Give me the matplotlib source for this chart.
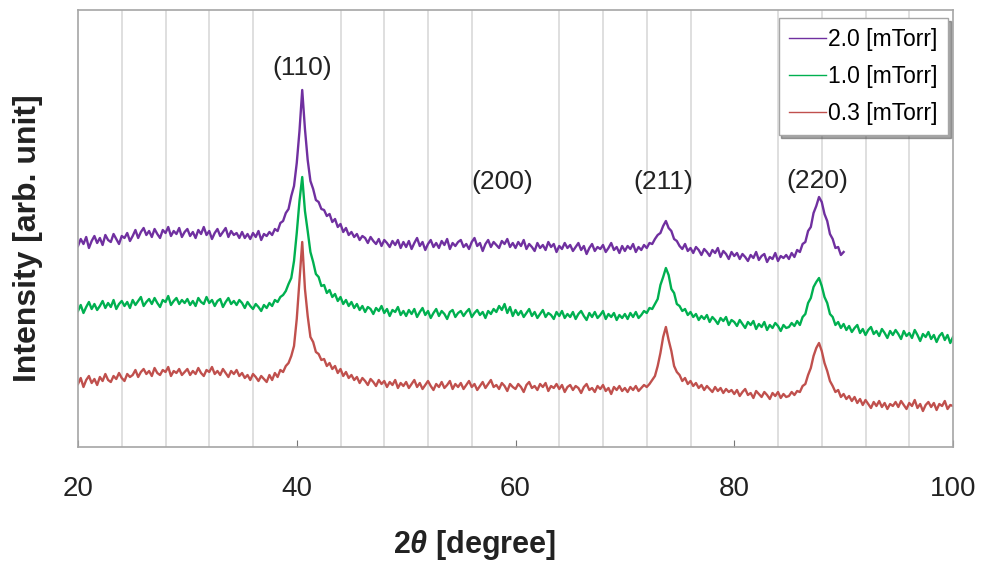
import numpy as np
import matplotlib
matplotlib.use("Agg")
import matplotlib.pyplot as plt

plt.rcParams['font.family'] = ['Liberation Sans', 'DejaVu Sans']
plt.rcParams['mathtext.fontset'] = 'custom'
plt.rcParams['mathtext.it'] = 'Liberation Sans:italic:bold'
plt.rcParams['mathtext.rm'] = 'Liberation Sans:bold'

# 2theta sampling grid (deg)
two_theta_20 = np.arange(20, 90.001, 0.25)
two_theta_10 = np.arange(20, 100.001, 0.25)
two_theta_03 = np.arange(20, 100.001, 0.25)

# intensity (arb. unit, offset traces)
int_20 = [
    201, 208, 203, 210, 199, 206, 211, 204, 209, 202, 212, 207, 205, 213, 208, 203, 211, 209, 214, 206,
    211, 217, 209, 215, 219, 212, 216, 210, 218, 213, 209, 217, 214, 220, 211, 216, 213, 219, 210, 215,
    218, 211, 215, 209, 217, 213, 220, 212, 216, 208, 214, 218, 211, 215, 219, 210, 216, 212, 214, 209,
    215, 209, 213, 208, 214, 210, 216, 207, 213, 211, 215, 212, 218, 216, 224, 226, 234, 238, 251, 261,
    284, 316, 357, 318, 287, 266, 258, 247, 245, 238, 237, 231, 233, 225, 228, 220, 223, 215, 219, 212,
    215, 210, 213, 207, 211, 209, 204, 210, 206, 203, 208, 201, 207, 204, 200, 206, 202, 207, 199, 205,
    200, 206, 198, 204, 209, 201, 205, 197, 203, 207, 200, 204, 199, 206, 202, 208, 198, 204, 201, 205,
    207, 200, 203, 198, 205, 209, 201, 204, 196, 203, 207, 200, 205, 202, 199, 206, 203, 208, 200, 204,
    199, 205, 201, 207, 198, 203, 200, 196, 204, 199, 202, 197, 205, 200, 203, 195, 201, 198, 204, 199,
    202, 196, 200, 204, 197, 201, 193, 199, 203, 196, 200, 198, 202, 195, 199, 204, 197, 200, 194, 201,
    196, 201, 198, 203, 195, 200, 197, 202, 199, 204, 203, 208, 212, 214, 221, 226, 219, 216, 208, 206,
    201, 198, 203, 196, 199, 194, 200, 197, 192, 198, 195, 191, 197, 194, 199, 190, 196, 193, 188, 195,
    191, 194, 188, 193, 190, 186, 192, 189, 195, 187, 191, 193, 185, 190, 188, 194, 186, 191, 189, 192,
    188, 194, 190, 197, 195, 203, 205, 216, 220, 234, 241, 250, 245, 233, 226, 213, 208, 199, 200, 192,
    195,
]
int_10 = [
    136, 142, 134, 140, 145, 138, 143, 137, 141, 146, 139, 144, 140, 147, 138, 143, 146, 141, 145, 139,
    147, 142, 146, 150, 141, 145, 148, 143, 149, 144, 140, 147, 145, 151, 142, 146, 149, 143, 147, 144,
    148, 142, 146, 141, 149, 145, 143, 150, 144, 147, 141, 146, 148, 140, 145, 149, 143, 146, 142, 147,
    144, 139, 145, 141, 138, 143, 140, 136, 142, 139, 144, 141, 147, 145, 150, 152, 156, 163, 169, 186,
    214, 246, 270, 236, 216, 195, 185, 173, 170, 161, 162, 154, 157, 150, 153, 146, 150, 143, 147, 141,
    145, 139, 143, 137, 141, 135, 140, 138, 133, 139, 136, 141, 134, 138, 131, 137, 135, 140, 132, 136,
    131, 137, 133, 138, 130, 135, 139, 132, 136, 129, 134, 138, 131, 136, 133, 128, 135, 137, 130, 134,
    136, 131, 135, 138, 130, 134, 137, 132, 135, 129, 136, 133, 138, 135, 141, 137, 143, 134, 140, 131,
    137, 132, 136, 130, 134, 138, 131, 135, 129, 133, 137, 130, 134, 132, 128, 135, 131, 136, 129, 133,
    130, 135, 128, 133, 136, 131, 127, 134, 130, 135, 129, 132, 136, 128, 133, 130, 134, 127, 132, 129,
    133, 128, 134, 130, 135, 129, 132, 136, 134, 139, 138, 143, 148, 162, 170, 179, 172, 158, 154, 143,
    141, 136, 138, 132, 135, 130, 133, 127, 131, 128, 132, 125, 130, 127, 123, 129, 126, 130, 122, 127,
    125, 121, 127, 123, 119, 125, 122, 126, 118, 123, 120, 125, 117, 122, 119, 124, 121, 116, 122, 119,
    120, 124, 121, 126, 122, 130, 133, 144, 149, 160, 165, 169, 161, 150, 144, 133, 130, 122, 125, 119,
    123, 117, 121, 115, 119, 122, 114, 118, 112, 117, 120, 113, 116, 111, 118, 114, 109, 116, 112, 117,
    113, 108, 116, 111, 114, 109, 117, 112, 106, 113, 110, 115, 108, 112, 105, 111, 114, 107, 112, 104,
    110,
]
int_03 = [
    63, 69, 60, 67, 71, 64, 68, 62, 70, 66, 73, 67, 65, 71, 68, 74, 69, 66, 73, 70,
    72, 77, 70, 75, 78, 73, 76, 71, 79, 74, 72, 77, 75, 80, 71, 76, 74, 78, 72, 75,
    78, 72, 76, 73, 79, 74, 71, 77, 75, 80, 73, 76, 72, 78, 74, 70, 76, 73, 77, 71,
    74, 69, 72, 67, 73, 70, 66, 71, 68, 65, 72, 67, 74, 70, 77, 75, 81, 84, 91, 101,
    128, 166, 205, 158, 131, 110, 105, 95, 93, 87, 88, 81, 84, 78, 81, 74, 78, 71, 75, 69,
    72, 67, 70, 64, 69, 66, 62, 68, 65, 61, 67, 63, 66, 60, 65, 62, 67, 59, 64, 61,
    65, 59, 63, 67, 60, 64, 58, 62, 66, 61, 57, 63, 60, 65, 59, 62, 66, 58, 63, 60,
    64, 58, 62, 66, 60, 63, 57, 61, 65, 59, 63, 67, 60, 62, 58, 64, 61, 56, 63, 60,
    58, 63, 60, 55, 62, 65, 59, 61, 57, 63, 60, 64, 56, 61, 59, 63, 58, 62, 55, 60,
    62, 57, 61, 59, 54, 60, 63, 57, 59, 55, 61, 58, 62, 56, 59, 53, 60, 57, 61, 56,
    59, 55, 60, 57, 61, 56, 59, 62, 60, 63, 67, 71, 81, 94, 110, 120, 107, 96, 81, 75,
    72, 66, 69, 63, 66, 61, 64, 59, 62, 57, 61, 58, 55, 60, 56, 59, 54, 58, 55, 57,
    53, 57, 51, 55, 58, 52, 54, 49, 56, 53, 50, 55, 52, 48, 54, 51, 55, 49, 53, 50,
    51, 55, 52, 56, 55, 61, 63, 72, 79, 91, 99, 104, 96, 84, 76, 66, 61, 55, 57, 50,
    53, 48, 51, 46, 50, 44, 48, 42, 47, 43, 39, 45, 41, 46, 40, 44, 38, 43, 41, 45,
    40, 46, 42, 38, 44, 41, 47, 39, 43, 36, 42, 45, 40, 44, 37, 43, 41, 46, 38, 42,
    41,
]

labels = ["2.0 [mTorr]", "1.0 [mTorr]", "0.3 [mTorr]"]
colors = ["#7030A0", "#00B050", "#C0504D"]

peak_names = ["(110)", "(200)", "(211)", "(220)"]
peak_pos = [40.5, 58.8, 73.5, 87.6]
peak_label_y = [379, 265, 265, 266]

fig = plt.figure(figsize=(9.82, 5.62), dpi=100)
ax = fig.add_axes([78/982, 1 - 447/562, 875/982, 437.5/562])

for xs, ys, lab, c in zip([two_theta_20, two_theta_10, two_theta_03],
                          [int_20, int_10, int_03], labels, colors):
    ax.plot(xs, ys, color=c, lw=1.7, label=lab)

for name, px, py in zip(peak_names, peak_pos, peak_label_y):
    ax.text(px, py, name, ha='center', va='center', fontsize=19, color='#222222')

ax.set_xlim(20, 100)
ax.set_ylim(0, 437.5)
ax.set_xticks([20, 40, 60, 80, 100])
ax.set_xticks(np.arange(20, 101, 4), minor=True)
ax.set_yticks([])
ax.grid(True, which='minor', axis='x', color='#dcdcdc', lw=1.3)
ax.tick_params(axis='x', which='major', direction='in', length=5, color='#777777',
               labelsize=20, pad=21, labelcolor='#222222')
ax.tick_params(axis='x', which='minor', length=0)
for s in ax.spines.values():
    s.set_color('#a6a6a6')
    s.set_linewidth(1.2)

leg = ax.legend(loc='upper right', bbox_to_anchor=(0.994, 0.981), borderaxespad=0,
                fontsize=16.5, handlelength=1.6, handletextpad=0.1, labelspacing=0.6,
                fancybox=False, shadow=True, framealpha=1, borderpad=0.45)
leg.get_frame().set_edgecolor('#a6a6a6')
for line in leg.get_lines():
    line.set_linewidth(1.0)

fig.text(474/982, 1 - 545/562, r"2$\theta$ [degree]", ha='center', va='center',
         fontsize=22, fontweight='bold', color='#222222')
fig.text(28/982, 1 - 238/562, "Intensity [arb. unit]", ha='center', va='center',
         rotation=90, fontsize=23, fontweight='bold', color='#222222')

fig.savefig("out.png", dpi=100)
